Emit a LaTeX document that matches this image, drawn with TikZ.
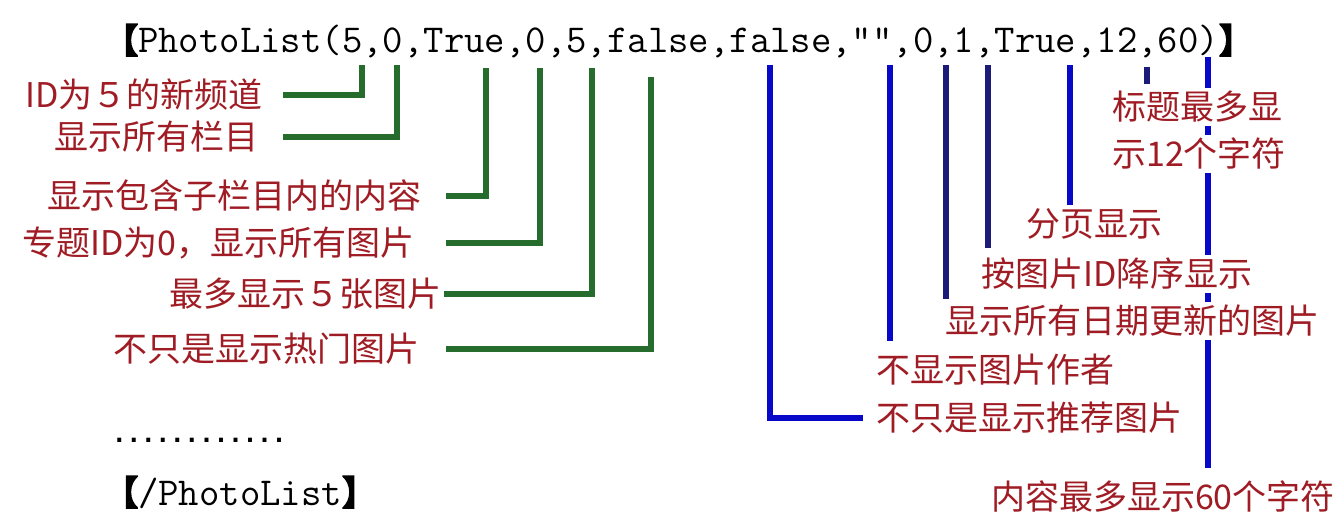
\documentclass[tikz,border=0pt]{standalone}
\usepackage{fontspec}
\newfontfamily\cjk{Noto Sans CJK SC}
\newfontfamily\cjkheavy[FakeBold=5]{Noto Sans CJK SC}
\newfontfamily\dvmono{DejaVu Sans Mono}
\definecolor{lblred}{RGB}{160,28,36}
\definecolor{dgreen}{RGB}{38,108,44}
\definecolor{bblue}{RGB}{8,8,200}
\definecolor{nblue}{RGB}{28,28,120}
\newcommand{\brk}[1]{{\cjkheavy\fontsize{34}{36}\selectfont #1}}
\begin{document}
\begin{tikzpicture}[x=1pt,y=-1pt,
  lbl/.style={font=\cjk\fontsize{34}{36}\selectfont, text=lblred, inner xsep=0pt, inner ysep=4pt, text height=28.2pt, text depth=2.4pt},
  hdr/.style={inner sep=0pt, anchor=base west},
  gline/.style={draw=dgreen, line width=6.5pt},
  bline/.style={draw=bblue, line width=6.5pt},
  nline/.style={draw=nblue, line width=6pt}]
\fill[white] (0,0) rectangle (1339,516);
\useasboundingbox (0,0) rectangle (1339,516);

% header
\node[hdr] (head) at (104,53) {\brk{【}{\ttfamily\fontsize{39.6}{40}\selectfont PhotoList(5,0,True,0,5,false,false,””,0,1,True,12,60)}\brk{】}};

% anchor points under the parameters
\coordinate (p1) at (362,65);
\coordinate (p2) at (397,65);
\coordinate (p3) at (486,68);
\coordinate (p4) at (540,68);
\coordinate (p5) at (592,68);
\coordinate (p6) at (651,77);
\coordinate (q1) at (770,65);
\coordinate (q2) at (890,65);
\coordinate (q3) at (946,65);
\coordinate (q4) at (988,65);
\coordinate (q5) at (1070,65);
\coordinate (q6) at (1147,67);
\coordinate (q7) at (1208,57);

% green side
\node[lbl, anchor=east] (g1) at (263,95) {ID为５的新频道};
\node[lbl, anchor=east] (g2) at (259,137) {显示所有栏目};
\node[lbl, anchor=east] (g3) at (422,196) {显示包含子栏目内的内容};
\node[lbl, anchor=east] (g4) at (415,243) {专题ID为0，显示所有图片};
\node[lbl, anchor=east] (g5) at (442,294) {最多显示５张图片};
\node[lbl, anchor=east] (g6) at (420,349) {不只是显示热门图片};
\draw[gline] ([xshift=20pt]g1.east) -| (p1);
\draw[gline] ([xshift=24pt]g2.east) -| (p2);
\draw[gline] ([xshift=24pt]g3.east) -| (p3);
\draw[gline] ([xshift=31pt]g4.east) -| (p4);
\draw[gline] ([xshift=2pt]g5.east) -| (p5);
\draw[gline] ([xshift=26pt]g6.east) -| (p6);

% blue side
\node[lbl, anchor=east] (b7) at (1335,497) {内容最多显示60个字符};
\draw[bline, shorten >=10pt] (q7) -- (q7 |- b7.north);

\node[lbl, anchor=west] (b1) at (876,418) {不只是显示推荐图片};
\draw[bline] (q1) |- ([xshift=-13pt]b1.west);
\node[lbl, anchor=west] (b2) at (876,370) {不显示图片作者};
\draw[bline, shorten >=10pt] (q2) -- (q2 |- b2.north);
\node[lbl, anchor=east, fill=white] (b3) at (1320,321) {显示所有日期更新的图片};
\draw[nline, shorten >=3pt] (q3) -- (q3 |- b3.north);
\node[lbl, anchor=east, fill=white] (b4) at (1253,274) {按图片ID降序显示};
\draw[nline, shorten >=7pt] (q4) -- (q4 |- b4.north);
\node[lbl, anchor=east] (b5) at (1163,224) {分页显示};
\draw[bline] (q5) -- (q5 |- b5.north);
\node[lbl, anchor=west, fill=white] (b6a) at (1112,107) {标题最多显};
\node[lbl, anchor=west, fill=white] (b6b) at (1112,154) {示12个字符};
\draw[nline, shorten >=3pt] (q6) -- (q6 |- b6a.north);

% footer
\node[inner sep=0pt, anchor=base west, font=\dvmono\bfseries\fontsize{24.1}{26}\selectfont] (dots) at (112,442) {............};
\node[hdr] (foot) at (104,505) {\brk{【}{\ttfamily\fontsize{39.6}{40}\selectfont /PhotoList}\brk{】}};
\end{tikzpicture}
\end{document}
